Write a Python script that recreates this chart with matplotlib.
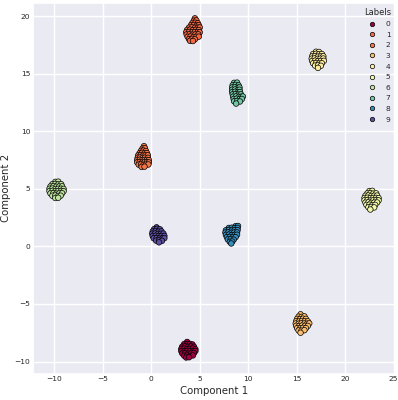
import matplotlib
matplotlib.use("Agg")
import matplotlib.pyplot as plt
import seaborn as sns
import numpy as np
import pandas as pd

# ---- data: t-SNE-like 2D embedding, 10 clusters ----
x0 = [3.7, 3.4, 3.7, 4.0, 4.25, 3.2, 3.5, 3.8, 4.1, 4.4, 3.1, 3.4, 3.7, 4.0, 4.3, 4.55,
      3.1, 3.4, 3.7, 4.0, 4.3, 4.55, 3.2, 3.5, 3.8, 4.1, 4.4, 3.4, 3.7, 4.0, 4.3, 3.6, 3.9]
y0 = [-8.3, -8.48, -8.5, -8.47, -8.52, -8.7, -8.68, -8.72, -8.69, -8.71, -8.9, -8.88, -8.92, -8.9, -8.87, -8.93,
      -9.1, -9.12, -9.08, -9.1, -9.13, -9.09, -9.3, -9.28, -9.32, -9.3, -9.27, -9.5, -9.48, -9.52, -9.47, -9.65, -9.63]

x1 = [4.5, 4.4, 4.65, 4.25, 4.55, 4.8, 4.1, 4.4, 4.7, 4.9, 3.9, 4.2, 4.5, 4.8, 5.0,
      3.7, 4.0, 4.3, 4.6, 4.9, 3.6, 3.9, 4.2, 4.5, 4.8, 5.0, 3.65, 3.95, 4.25, 4.55, 4.85,
      3.75, 4.05, 4.35, 4.65, 4.9, 3.9, 4.2, 4.5, 4.0, 4.3]
y1 = [19.8, 19.6, 19.62, 19.4, 19.42, 19.38, 19.2, 19.22, 19.18, 19.2, 19.0, 19.02, 18.98, 19.0, 19.01,
      18.8, 18.82, 18.78, 18.8, 18.79, 18.6, 18.62, 18.58, 18.6, 18.61, 18.59, 18.4, 18.42, 18.38, 18.4, 18.41,
      18.2, 18.22, 18.18, 18.2, 18.21, 18.0, 18.02, 17.98, 17.85, 17.83]

x2 = [-0.75, -0.9, -0.65, -1.05, -0.8, -0.55, -1.2, -0.95, -0.7, -0.45,
      -1.35, -1.1, -0.85, -0.6, -0.35, -1.4, -1.15, -0.9, -0.65, -0.35,
      -1.45, -1.2, -0.95, -0.7, -0.45, -0.25, -1.45, -1.2, -0.95, -0.7, -0.45, -0.25,
      -1.3, -1.05, -0.8, -0.55, -0.3, -1.0, -0.7]
y2 = [8.7, 8.5, 8.52, 8.3, 8.32, 8.28, 8.1, 8.12, 8.08, 8.1,
      7.9, 7.92, 7.88, 7.9, 7.91, 7.7, 7.72, 7.68, 7.7, 7.69,
      7.5, 7.52, 7.48, 7.5, 7.51, 7.49, 7.3, 7.32, 7.28, 7.3, 7.31, 7.29,
      7.1, 7.12, 7.08, 7.1, 7.11, 6.9, 6.92]

x3 = [15.4, 15.2, 15.5, 15.8, 15.05, 15.35, 15.65, 15.95, 14.95, 15.25, 15.55, 15.85, 16.15,
      14.9, 15.2, 15.5, 15.8, 16.1, 16.3, 14.95, 15.25, 15.55, 15.85, 16.15,
      15.05, 15.35, 15.65, 15.95, 15.2, 15.5, 15.8, 15.4]
y3 = [-5.9, -6.1, -6.12, -6.08, -6.3, -6.32, -6.28, -6.3, -6.5, -6.52, -6.48, -6.5, -6.51,
      -6.7, -6.72, -6.68, -6.7, -6.71, -6.69, -6.9, -6.92, -6.88, -6.9, -6.91,
      -7.1, -7.12, -7.08, -7.1, -7.3, -7.32, -7.28, -7.5]

x4 = [17.0, 17.3, 16.7, 17.0, 17.3, 17.6, 16.6, 16.9, 17.2, 17.5, 17.75,
      16.55, 16.85, 17.15, 17.45, 17.75, 16.6, 16.9, 17.2, 17.5, 17.8,
      16.7, 17.0, 17.3, 17.6, 16.9, 17.2, 17.5, 17.2]
y4 = [16.9, 16.88, 16.7, 16.72, 16.68, 16.7, 16.5, 16.52, 16.48, 16.5, 16.51,
      16.3, 16.32, 16.28, 16.3, 16.31, 16.1, 16.12, 16.08, 16.1, 16.11,
      15.9, 15.92, 15.88, 15.9, 15.7, 15.72, 15.68, 15.5]

x5 = [22.5, 22.8, 22.3, 22.6, 22.9, 23.2, 22.1, 22.4, 22.7, 23.0, 23.3,
      22.0, 22.3, 22.6, 22.9, 23.2, 23.45, 22.0, 22.3, 22.6, 22.9, 23.2, 23.45,
      22.1, 22.4, 22.7, 23.0, 23.3, 22.2, 22.5, 22.8, 23.1, 22.4, 22.7, 23.0, 22.6]
y5 = [4.8, 4.82, 4.6, 4.62, 4.58, 4.6, 4.4, 4.42, 4.38, 4.4, 4.41,
      4.2, 4.22, 4.18, 4.2, 4.21, 4.19, 4.0, 4.02, 3.98, 4.0, 4.01, 3.99,
      3.8, 3.82, 3.78, 3.8, 3.81, 3.6, 3.62, 3.58, 3.6, 3.4, 3.42, 3.38, 3.2]

x6 = [-9.9, -9.6, -10.2, -9.9, -9.6, -9.3, -10.4, -10.1, -9.8, -9.5, -9.2,
      -10.5, -10.2, -9.9, -9.6, -9.3, -9.05, -10.5, -10.2, -9.9, -9.6, -9.3, -9.05,
      -10.4, -10.1, -9.8, -9.5, -9.2, -10.2, -9.9, -9.6, -9.35, -9.9, -9.6]
y6 = [5.6, 5.62, 5.4, 5.42, 5.38, 5.4, 5.2, 5.22, 5.18, 5.2, 5.21,
      5.0, 5.02, 4.98, 5.0, 5.01, 4.99, 4.8, 4.82, 4.78, 4.8, 4.81, 4.79,
      4.6, 4.62, 4.58, 4.6, 4.61, 4.4, 4.42, 4.38, 4.4, 4.2, 4.22]

x7 = [8.55, 8.85, 8.4, 8.7, 9.0, 8.35, 8.65, 8.95, 9.1, 8.35, 8.65, 8.95, 9.1,
      8.35, 8.65, 8.95, 9.15, 8.4, 8.7, 9.0, 9.25, 8.45, 8.75, 9.05, 9.3, 9.45,
      8.5, 8.8, 9.1, 9.35, 8.55, 8.85, 9.15, 8.75]
y7 = [14.2, 14.22, 14.0, 14.02, 13.98, 13.8, 13.82, 13.78, 13.8, 13.6, 13.62, 13.58, 13.6,
      13.4, 13.42, 13.38, 13.4, 13.2, 13.22, 13.18, 13.2, 13.0, 13.02, 12.98, 13.0, 13.01,
      12.8, 12.82, 12.78, 12.8, 12.6, 12.62, 12.58, 12.4]

x8 = [8.7, 8.95, 8.0, 8.3, 8.6, 8.9, 7.7, 8.0, 8.3, 8.6, 8.9,
      7.65, 7.95, 8.25, 8.55, 8.85, 7.7, 8.0, 8.3, 8.6, 8.85,
      7.8, 8.1, 8.4, 8.7, 7.9, 8.2, 8.5, 8.1, 8.35, 8.25]
y8 = [1.75, 1.77, 1.6, 1.62, 1.58, 1.6, 1.4, 1.42, 1.38, 1.4, 1.41,
      1.2, 1.22, 1.18, 1.2, 1.21, 1.0, 1.02, 0.98, 1.0, 1.01,
      0.8, 0.82, 0.78, 0.8, 0.6, 0.62, 0.58, 0.4, 0.42, 0.25]

x9 = [0.55, 0.3, 0.6, 0.9, 0.15, 0.45, 0.75, 1.05, 0.1, 0.4, 0.7, 1.0, 1.25,
      0.15, 0.45, 0.75, 1.05, 1.35, 0.25, 0.55, 0.85, 1.15, 1.35, 0.5, 0.8, 1.1, 0.8]
y9 = [1.65, 1.5, 1.52, 1.48, 1.3, 1.32, 1.28, 1.3, 1.1, 1.12, 1.08, 1.1, 1.11,
      0.9, 0.92, 0.88, 0.9, 0.91, 0.7, 0.72, 0.68, 0.7, 0.71, 0.5, 0.52, 0.48, 0.35]

labels = list(range(10))
xs = [x0, x1, x2, x3, x4, x5, x6, x7, x8, x9]
ys = [y0, y1, y2, y3, y4, y5, y6, y7, y8, y9]
# position along the Spectral colormap for each label
cmap_pos = [0.0, 0.195, 0.215, 0.333, 0.444, 0.556, 0.667, 0.778, 0.889, 1.0]

rows = []
for lab, xx, yy in zip(labels, xs, ys):
    for a, b in zip(xx, yy):
        rows.append((a, b, lab))
df = pd.DataFrame(rows, columns=["c1", "c2", "Labels"])

sns.set_theme(style="darkgrid")
plt.rcParams['font.family'] = ['DejaVu Sans']

cmap = plt.get_cmap("Spectral")
palette = [cmap(p) for p in cmap_pos]

fig = plt.figure(figsize=(3.98, 4.0), dpi=100)
ax = fig.add_axes([0.083, 0.066, 0.912, 0.927])
sns.scatterplot(data=df, x="c1", y="c2", hue="Labels", palette=palette,
                s=16, edgecolor="black", linewidth=0.5, ax=ax, legend="full")

ax.set_xlim(-12.2, 25.25)
ax.set_ylim(-11.05, 21.15)
ax.set_xticks([-10, -5, 0, 5, 10, 15, 20, 25])
ax.set_yticks([-10, -5, 0, 5, 10, 15, 20])
ax.tick_params(labelsize=5.4, pad=2, length=0, labelcolor="#262626")
ax.set_xlabel("Component 1", fontsize=7.3, labelpad=2.5, color="#262626")
ax.set_ylabel("Component 2", fontsize=7.3, labelpad=2.5, color="#262626")

leg = ax.legend(title="Labels", loc="upper right", fontsize=5.4, title_fontsize=6,
                frameon=False, labelspacing=0.58, markerscale=0.8, borderaxespad=0.25)

fig.savefig("out.png", dpi=100)
